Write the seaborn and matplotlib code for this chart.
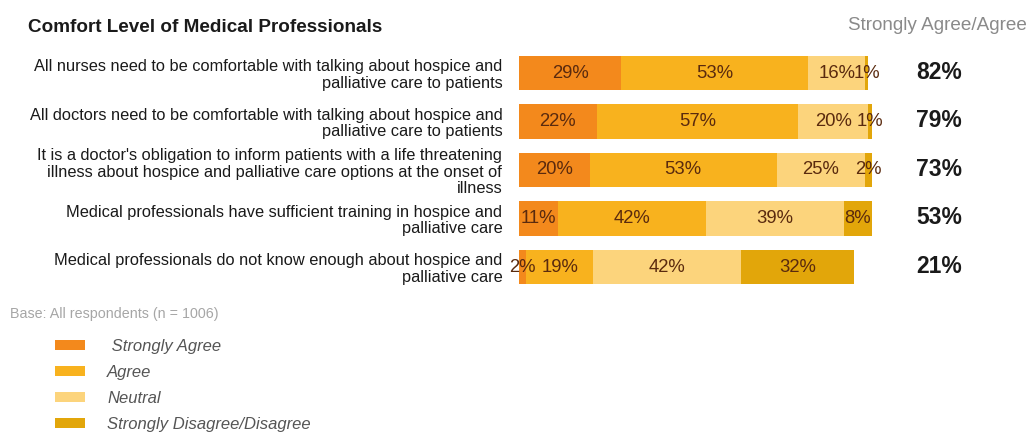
import matplotlib
matplotlib.use("Agg")
import matplotlib.pyplot as plt
from matplotlib.patches import Patch
import pandas as pd
import seaborn as sns

# Survey statements (rows, top to bottom)
statements = [
    "All nurses need to be comfortable with talking about hospice and\npalliative care to patients",
    "All doctors need to be comfortable with talking about hospice and\npalliative care to patients",
    "It is a doctor's obligation to inform patients with a life threatening\n"
    "illness about hospice and palliative care options at the onset of\nillness",
    "Medical professionals have sufficient training in hospice and\npalliative care",
    "Medical professionals do not know enough about hospice and\npalliative care",
]

# Response shares (%)
strongly_agree = [29, 22, 20, 11, 2]
agree = [53, 57, 53, 42, 19]
neutral = [16, 20, 25, 39, 42]
disagree = [1, 1, 2, 8, 32]

legend_labels = [" Strongly Agree", "Agree", "Neutral", "Strongly Disagree/Disagree"]
colors = ["#F3891C", "#F8B21E", "#FCD47C", "#E2A60A"]

sns.set_theme(style="white")
plt.rcParams["font.family"] = ["Liberation Sans", "DejaVu Sans"]

parts = ["strongly_agree", "agree", "neutral", "disagree"]
df = pd.DataFrame({
    "statement": statements,
    "strongly_agree": strongly_agree,
    "agree": agree,
    "neutral": neutral,
    "disagree": disagree,
})
cum = df[parts].cumsum(axis=1)

W, H = 1029, 444
fig = plt.figure(figsize=(W / 100, H / 100), dpi=100)
fig.patch.set_facecolor("white")
ax = fig.add_axes([519 / W, 152.75 / H, 353 / W, 242.5 / H])

# Stacked bars: draw cumulative totals from the outermost segment inward
for k in reversed(range(len(parts))):
    sns.barplot(x=cum[parts[k]], y=df["statement"], orient="h",
                color=colors[k], saturation=1, width=0.72,
                errorbar=None, linewidth=0, ax=ax)

ax.set_xlim(0, 100)
ax.set_ylim(len(statements) - 0.5, -0.5)
ax.set_xlabel("")
ax.set_ylabel("")
ax.set_xticks([])
sns.despine(ax=ax, left=True, bottom=True)
ax.tick_params(axis="y", length=0, pad=12, labelsize=11.8, labelcolor="#1a1a1a")
for lbl in ax.get_yticklabels():
    lbl.set_linespacing(1.12)

# Segment value labels
for i in range(len(df)):
    for k, p in enumerate(parts):
        v = df.loc[i, p]
        center = cum.loc[i, p] - v / 2
        ax.text(center, i, f"{v}%", ha="center", va="center",
                fontsize=13.3, color="#5A2A0E")
    top2 = df.loc[i, "strongly_agree"] + df.loc[i, "agree"]
    ax.text(119, i - 0.02, f"{top2}%", ha="center", va="center",
            fontsize=16.5, fontweight="bold", color="#1a1a1a", clip_on=False)

fig.text(28 / W, 1 - 27 / H, "Comfort Level of Medical Professionals",
         fontsize=13.6, fontweight="bold", color="#1a1a1a", va="center")
fig.text(1027 / W, 1 - 26 / H, "Strongly Agree/Agree",
         fontsize=13.6, color="#8A8A8A", ha="right", va="center")
fig.text(10 / W, 1 - 314 / H, "Base: All respondents (n = 1006)",
         fontsize=10.3, color="#A6A6A6", va="center")

handles = [Patch(facecolor=c, edgecolor="none") for c in colors]
fig.legend(handles, legend_labels, loc="upper left",
           bbox_to_anchor=(55 / W, 1 - 339 / H), frameon=False,
           prop={"style": "italic", "size": 12}, labelcolor="#555555",
           handlelength=1.8, handleheight=0.54, handletextpad=1.32,
           labelspacing=0.66, borderpad=0, borderaxespad=0)

fig.savefig("out.png", dpi=100, facecolor="white")
